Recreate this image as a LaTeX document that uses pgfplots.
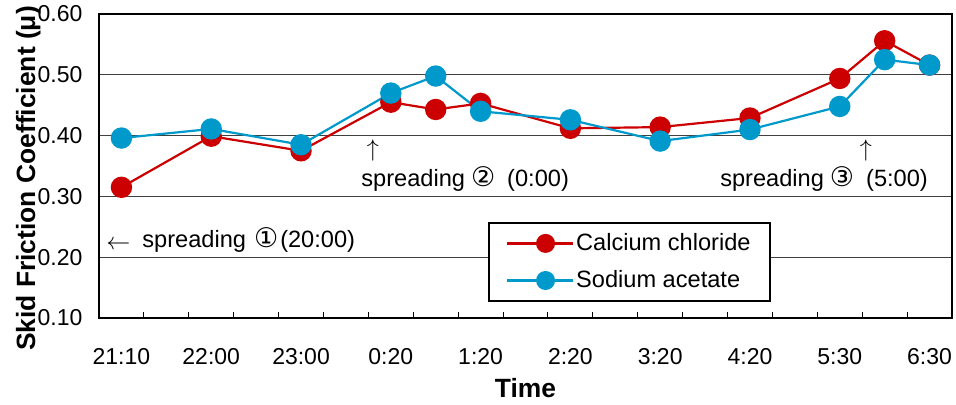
\documentclass[border=0pt]{standalone}
\usepackage{fontspec}
\setmainfont{Liberation Sans}
\newfontfamily\sym{DejaVu Sans}
\usepackage{pgfplots}
\pgfplotsset{compat=1.18}
\definecolor{cred}{RGB}{204,0,0}
\definecolor{cblue}{RGB}{0,153,204}
\newcommand\fs{\fontsize{11.5}{13.8}\selectfont}
\newcommand\fa{\fontsize{11.8}{14}\selectfont}
\newcommand\fb{\fontsize{13.2}{15.8}\selectfont\bfseries}
\newcommand\cnum[1]{{\sym\fontsize{13.5}{13.5}\selectfont #1}}
\newcommand\larr{\raisebox{-1.2pt}{\fontsize{12.8}{12.8}\selectfont$\leftarrow$}}
\newcommand\uarr{{\fontsize{12.8}{12.8}\selectfont$\uparrow$}}
\begin{document}
\begin{tikzpicture}[font=\fs]
\begin{axis}[
  scale only axis, width=426.5pt, height=152pt,
  xmin=-0.5, xmax=18.5, ymin=0.1, ymax=0.6,
  xtick={0,2,4,6,8,10,12,14,16,18},
  xticklabels={21:10,22:00,23:00,0:20,1:20,2:20,3:20,4:20,5:30,6:30},
  minor xtick={0.5,1.5,...,17.5},
  ytick={0.1,0.2,0.3,0.4,0.5,0.6},
  /pgf/number format/assume math mode=true,
  yticklabel={\pgfmathprintnumber[fixed,fixed zerofill,precision=2]{\tick}},
  major tick length=0pt, minor tick length=3pt, tick align=inside,
  xtick pos=bottom, ytick pos=left,
  tick style={black, line width=0.5pt},
  ymajorgrids, grid style={black!75, line width=0.5pt},
  axis line style={line width=1pt},
  xlabel={Time}, ylabel={Skid Friction Coefficient (μ)},
  label style={font=\fb},
  ylabel style={at={(axis description cs:-0.083,0.459)}, anchor=center},
  xlabel style={at={(axis description cs:0.5,0)}, anchor=center, yshift=-35pt},
  xticklabel style={anchor=center, yshift=-19.3pt},
  yticklabel style={anchor=east, xshift=-4.8pt},
  legend style={at={(axis description cs:0.456,0.316)}, anchor=north west,
    draw=black, line width=1pt, font=\fa, inner xsep=8.5pt, inner ysep=4.2pt,
    row sep=6.5pt, nodes={inner sep=1pt}},
  legend cell align=left,
  legend image code/.code={
    \path (0pt,0pt) -- (33pt,0pt);
    \draw[#1, line width=0.7pt] (5.5pt,0pt) -- (33pt,0pt);
    \draw[#1, mark size=4.2pt] plot coordinates {(19.25pt,0pt)};
  },
]
\addplot[cred, line width=1.1pt, mark=*, mark size=4.8pt, mark options={solid, fill=cred, draw=cred}]
  coordinates {(0,0.315) (2,0.399) (4,0.375) (6,0.455) (7,0.443) (8,0.453) (10,0.412) (12,0.414) (14,0.429) (16,0.494) (17,0.556) (18,0.516)};
\addlegendentry{Calcium chloride}
\addplot[cblue, line width=1.1pt, mark=*, mark size=4.8pt, mark options={solid, fill=cblue, draw=cblue}]
  coordinates {(0,0.396) (2,0.411) (4,0.385) (6,0.470) (7,0.498) (8,0.440) (10,0.426) (12,0.391) (14,0.410) (16,0.448) (17,0.525) (18,0.516)};
\addlegendentry{Sodium acetate}
\node[anchor=base west, inner sep=0pt, font=\fa] at (axis cs:-0.344,0.2168) {\larr\hspace{6pt}spreading\hspace{4pt}\cnum{①}\hspace{1pt}(20:00)};
\node[anchor=center, inner sep=0pt] at (axis cs:5.60,0.3747) {\uarr};
\node[anchor=base west, inner sep=0pt, font=\fa] at (axis cs:5.335,0.3171) {spreading\hspace{3pt}\cnum{②}\hspace{6pt}(0:00)};
\node[anchor=center, inner sep=0pt] at (axis cs:16.58,0.3747) {\uarr};
\node[anchor=base west, inner sep=0pt, font=\fa] at (axis cs:13.33,0.3171) {spreading\hspace{3pt}\cnum{③}\hspace{6pt}(5:00)};
\coordinate (O) at (rel axis cs:0,0);
\end{axis}
\pgfresetboundingbox
\path[use as bounding box] (O) ++(-49.5pt,-43pt) rectangle ++(478pt,202pt);
\end{tikzpicture}
\end{document}
